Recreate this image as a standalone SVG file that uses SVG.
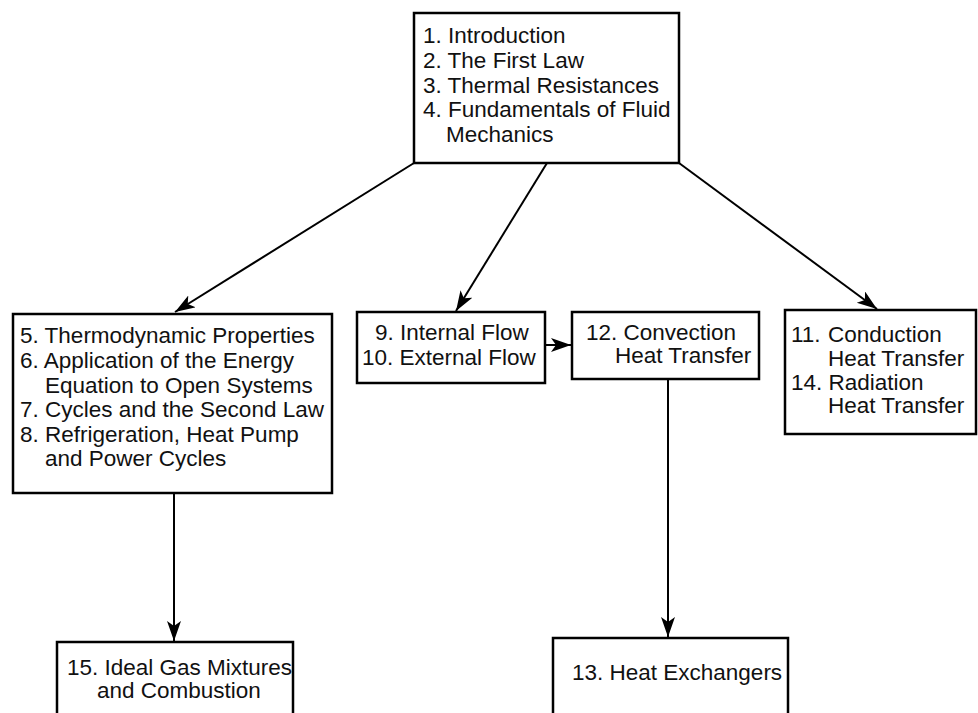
<svg xmlns="http://www.w3.org/2000/svg" width="978" height="713" viewBox="0 0 978 713">
<style>
.box{fill:#fff;stroke:#000;stroke-width:2.5}
.t{font-family:"Liberation Sans",Arial,Helvetica,sans-serif;font-size:22.5px;fill:#111}
.c{fill:none;stroke:#000;stroke-width:2}
</style>
<defs>
<marker id="ah" markerUnits="userSpaceOnUse" markerWidth="22" markerHeight="16" refX="20" refY="7" orient="auto">
<path d="M0,0 L20,7 L0,14 L5,7 z" fill="#000"/>
</marker>
</defs>
<rect width="978" height="713" fill="#fff"/>
<g id="connectors">
<line class="c" x1="414" y1="163" x2="175" y2="312" marker-end="url(#ah)"/>
<line class="c" x1="547" y1="163" x2="456" y2="311" marker-end="url(#ah)"/>
<line class="c" x1="679" y1="163" x2="877" y2="309" marker-end="url(#ah)"/>
<line class="c" x1="545" y1="345" x2="571" y2="345" marker-end="url(#ah)"/>
<line class="c" x1="668" y1="379" x2="668" y2="637" marker-end="url(#ah)"/>
<line class="c" x1="174" y1="493" x2="174" y2="641" marker-end="url(#ah)"/>
</g>
<g id="n1">
<rect class="box" x="414" y="13" width="265" height="150"/>
<text class="t"><tspan x="423" y="43">1. Introduction</tspan><tspan x="423" y="68">2. The First Law</tspan><tspan x="423" y="93">3. Thermal Resistances</tspan><tspan x="423" y="117">4. Fundamentals of Fluid</tspan><tspan x="446" y="142">Mechanics</tspan></text>
</g>
<g id="n5">
<rect class="box" x="13" y="314" width="319" height="179"/>
<text class="t"><tspan x="20" y="343">5. Thermodynamic Properties</tspan><tspan x="20" y="368">6. Application of the Energy</tspan><tspan x="45" y="393">Equation to Open Systems</tspan><tspan x="20" y="417">7. Cycles and the Second Law</tspan><tspan x="20" y="442">8. Refrigeration, Heat Pump</tspan><tspan x="45" y="466">and Power Cycles</tspan></text>
</g>
<g id="n9">
<rect class="box" x="357" y="312" width="188" height="71"/>
<text class="t"><tspan x="375" y="340">9. Internal Flow</tspan><tspan x="362" y="365">10. External Flow</tspan></text>
</g>
<g id="n12">
<rect class="box" x="572" y="312" width="187" height="67"/>
<text class="t"><tspan x="586" y="340">12. Convection</tspan><tspan x="615" y="363">Heat Transfer</tspan></text>
</g>
<g id="n11">
<rect class="box" x="785" y="310" width="191" height="124"/>
<text class="t"><tspan x="791" y="342">11.</tspan><tspan x="828" y="342">Conduction</tspan><tspan x="828" y="366">Heat Transfer</tspan><tspan x="791" y="390">14. Radiation</tspan><tspan x="828" y="413">Heat Transfer</tspan></text>
</g>
<g id="n15">
<rect class="box" x="57" y="642" width="236" height="90"/>
<text class="t"><tspan x="67" y="675">15. Ideal Gas Mixtures</tspan><tspan x="97" y="698">and Combustion</tspan></text>
</g>
<g id="n13">
<rect class="box" x="553" y="638" width="235" height="94"/>
<text class="t"><tspan x="572" y="680">13. Heat Exchangers</tspan></text>
</g>
</svg>
